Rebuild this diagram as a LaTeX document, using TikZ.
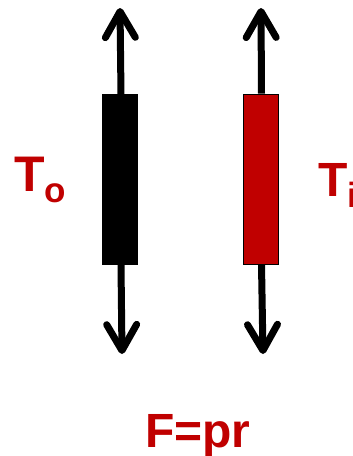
\documentclass[tikz,border=0pt]{standalone}
\usepackage{fontspec}
\setmainfont{Liberation Sans}
\usetikzlibrary{arrows.meta}
\definecolor{tred}{HTML}{C00000}
\begin{document}
\begin{tikzpicture}[x=1pt,y=-1pt,
  force/.style={line width=7pt, -{Straight Barb[round,length=26pt,width=30pt]}},
  bar/.style={draw=black, line width=0.8pt, minimum width=35pt, minimum height=170pt, inner sep=0pt},
  lbl/.style={text=tred, font=\bfseries, inner sep=0pt}]
\useasboundingbox (0,0) rectangle (353,456);
\clip (0,0) rectangle (353,456);
\coordinate (bkt) at (120,8);
\coordinate (bkb) at (122,354);
\coordinate (rdt) at (261,8);
\coordinate (rdb) at (263,354);
\node[bar, fill=black] (bk) at (120,179.5) {};
\node[bar, fill=tred] (rd) at (260.5,179) {};
\draw[force] ([xshift=1pt]bk.north) -- (bkt);
\draw[force] ([xshift=1pt]bk.south) -- (bkb);
\draw[force] ([xshift=1pt]rd.north) -- (rdt);
\draw[force] ([xshift=1pt]rd.south) -- (rdb);
\node[lbl, anchor=base west] (to) at (14,191) {\fontsize{50}{50}\selectfont T\raisebox{-11pt}{\fontsize{35}{35}\selectfont o}};
\node[lbl, anchor=base west] (ti) at (318,196) {\fontsize{48}{48}\selectfont T\raisebox{-11pt}{\fontsize{35}{35}\selectfont i}};
\node[lbl, anchor=base west] (f) at (145,447) {\fontsize{48}{48}\selectfont F=pr};
\end{tikzpicture}
\end{document}
